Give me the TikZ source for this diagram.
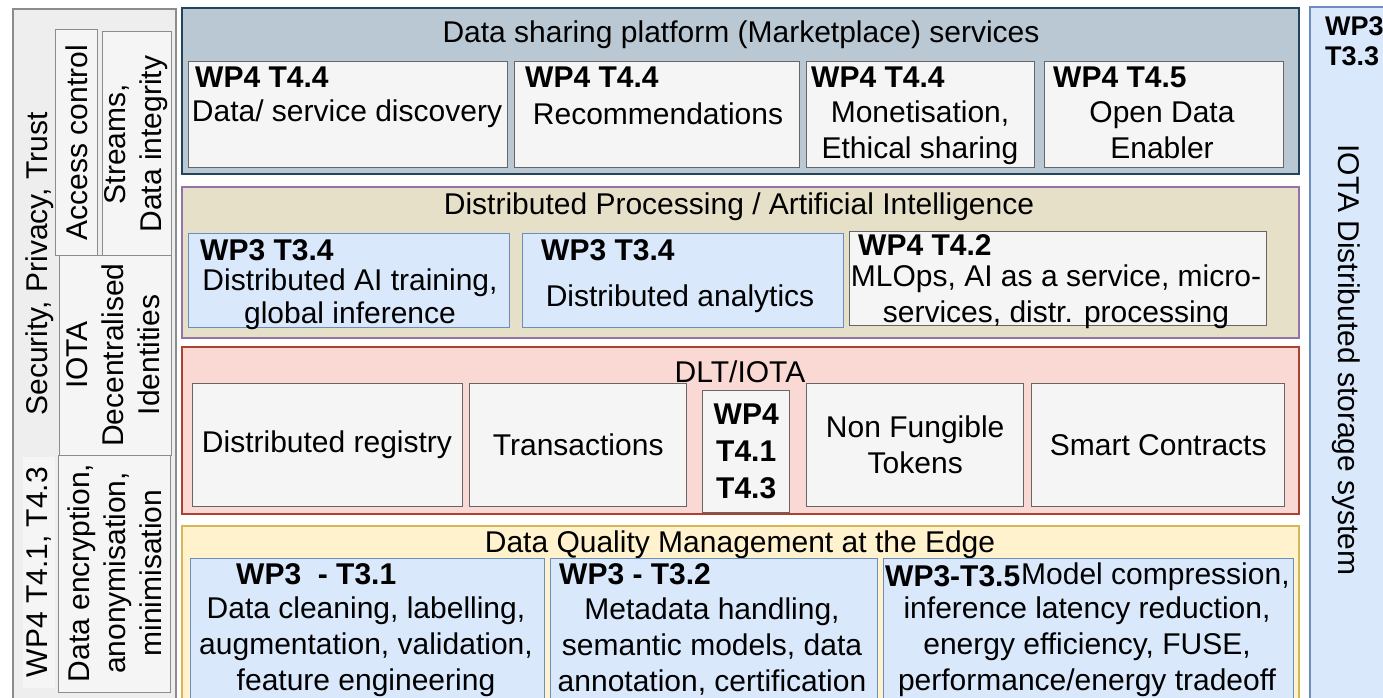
\documentclass[tikz,border=0pt]{standalone}
\usepackage{fontspec}
\setmainfont{Liberation Sans}
\definecolor{topfill}{HTML}{BAC8D3}
\definecolor{topline}{HTML}{23445D}
\definecolor{procfill}{HTML}{E6E0C9}
\definecolor{procline}{HTML}{9673A6}
\definecolor{dltfill}{HTML}{FAD9D5}
\definecolor{dltline}{HTML}{AE4132}
\definecolor{edgefill}{HTML}{FFF2CC}
\definecolor{edgeline}{HTML}{D6B656}
\definecolor{bluefill}{HTML}{DAE8FC}
\definecolor{blueline}{HTML}{6C8EBF}
\definecolor{greyfill}{HTML}{F5F5F5}
\definecolor{greyline}{HTML}{666666}
\definecolor{leftfill}{HTML}{EEEEEE}
\definecolor{leftline}{HTML}{8C8C8C}
\tikzset{
  lbl/.style={font=\fontsize{30}{36}\selectfont, inner sep=0pt, align=center},
  hdr/.style={lbl, font=\fontsize{30}{36}\selectfont\bfseries, anchor=west},
  band/.style={line width=1.6pt, anchor=north west, inner sep=0pt},
  cell/.style={draw=greyline, fill=greyfill, line width=1.4pt, anchor=north west, inner sep=0pt},
  bluecell/.style={cell, draw=blueline, fill=bluefill},
  leftcell/.style={cell, draw=leftline}
}
\begin{document}
\begin{tikzpicture}[x=1pt,y=-1pt]
    \useasboundingbox (0,0) rectangle (1383,697);
    \clip (0,0) rectangle (1383,697);
    %% Security column
    \node[band, draw=leftline, fill=leftfill, minimum width=163, minimum height=720] (sec) at (12,8) {};
    \node[fill=greyfill, anchor=north west, inner sep=0pt, minimum width=32, minimum height=231] (secbg) at (23,457) {};
    \node[lbl, rotate=90] (sectitle) at (40,264) {Security, Privacy, Trust};
    \node[lbl, rotate=90] (secwp) at (39,572) {WP4 T4.1, T4.3};
    \node[leftcell, minimum width=42, minimum height=226] (access) at (55,29) {};
    \node[lbl, rotate=90] at (access.center) {Access control};
    \node[leftcell, minimum width=69, minimum height=224] (streams) at (102,31) {};
    \node[lbl, rotate=90] at (136,144) {Streams,\\Data integrity};
    \node[leftcell, minimum width=112, minimum height=200] (ident) at (59,255) {};
    \node[lbl, rotate=90] at (113,355) {IOTA\\Decentralised\\Identities};
    \node[leftcell, minimum width=112, minimum height=237] (crypt) at (58,455) {};
    \node[lbl, rotate=90] at (115,573) {Data encryption,\\anonymisation,\\minimisation};
    %% Storage column
    \node[band, draw=blueline, fill=bluefill, minimum width=100, minimum height=720] (store) at (1309,6) {};
    \node[font=\fontsize{27}{30}\selectfont\bfseries, inner sep=0pt, align=left, anchor=north west] (storewp) at (1325,16) {WP3\\T3.3};
    \node[lbl, rotate=-90] (storetitle) at (1346,360) {IOTA Distributed storage system};
    %% Marketplace services
    \node[band, draw=topline, fill=topfill, minimum width=1117, minimum height=166] (market) at (181,7) {};
    \node[lbl] (markettitle) at (741,35) {Data sharing platform (Marketplace) services};
    \node[cell, minimum width=319, minimum height=106] (discover) at (188,61) {};
    \node[hdr] at (195,77) {WP4 T4.4};
    \node[lbl] at (347,114) {Data/ service discovery};
    \node[cell, minimum width=285, minimum height=106] (recomm) at (514,61) {};
    \node[hdr] at (525,77) {WP4 T4.4};
    \node[lbl] at (658,114) {Recommendations};
    \node[cell, minimum width=228, minimum height=106] (money) at (806,61) {};
    \node[hdr] at (811,77) {WP4 T4.4};
    \node[lbl] at (920,133) {Monetisation,\\Ethical sharing};
    \node[cell, minimum width=239, minimum height=106] (opendata) at (1044,61) {};
    \node[hdr] at (1053,77) {WP4 T4.5};
    \node[lbl] at (1162,130) {Open Data\\Enabler};
    %% Distributed processing / AI
    \node[band, draw=procline, fill=procfill, minimum width=1117, minimum height=151] (proc) at (181,186) {};
    \node[lbl] (proctitle) at (739,207) {Distributed Processing / Artificial Intelligence};
    \node[bluecell, minimum width=321, minimum height=94] (aitrain) at (188,233) {};
    \node[hdr] at (200,250) {WP3 T3.4};
    \node[lbl, font=\fontsize{30}{33}\selectfont] at (350,299) {Distributed AI training,\\global inference};
    \node[bluecell, minimum width=321, minimum height=94] (analytics) at (522,233) {};
    \node[hdr] at (541,250) {WP3 T3.4};
    \node[lbl] at (680,299) {Distributed analytics};
    \node[cell, minimum width=417, minimum height=94] (mlops) at (849,231) {};
    \node[hdr] at (858,245) {WP4 T4.2};
    \node[lbl] at (1056,297) {MLOps, AI as a service, micro-\\services, distr. processing};
    %% DLT / IOTA
    \node[band, draw=dltline, fill=dltfill, minimum width=1117, minimum height=167] (dlt) at (181,346) {};
    \node[lbl] (dlttitle) at (740,372) {DLT/IOTA};
    \node[cell, minimum width=270, minimum height=123] (registry) at (192,383) {};
    \node[lbl] at (327,445) {Distributed registry};
    \node[cell, minimum width=217, minimum height=123] (trans) at (469,383) {};
    \node[lbl] at (trans.center) {Transactions};
    \node[cell, minimum width=87, minimum height=122] (dltwp) at (702,390) {};
    \node[lbl, font=\fontsize{30}{37}\selectfont\bfseries] at (dltwp.center) {WP4\\T4.1\\T4.3};
    \node[cell, minimum width=217, minimum height=123] (nft) at (806,383) {};
    \node[lbl] at (nft.center) {Non Fungible\\Tokens};
    \node[cell, minimum width=253, minimum height=123] (smart) at (1031,383) {};
    \node[lbl] at (smart.center) {Smart Contracts};
    %% Data quality at the edge
    \node[band, draw=edgeline, fill=edgefill, minimum width=1117, minimum height=200] (edge) at (181,525) {};
    \node[lbl] (edgetitle) at (740,545) {Data Quality Management at the Edge};
    \node[bluecell, minimum width=354, minimum height=160] (clean) at (190,558) {};
    \node[hdr] at (236,574) {WP3~~- T3.1};
    \node[lbl] at (366,647) {Data cleaning, labelling,\\augmentation, validation,\\feature engineering};
    \node[bluecell, minimum width=327, minimum height=160] (meta) at (550,558) {};
    \node[hdr] at (559,574) {WP3 - T3.2};
    \node[lbl] at (712,647) {Metadata handling,\\semantic models, data\\annotation, certification};
    \node[bluecell, minimum width=410, minimum height=160] (compress) at (883,558) {};
    \node[hdr] (compresswp) at (885,576) {WP3-T3.5};
    \node[lbl, anchor=west] at (1021,577) {Model compression,};
    \node[lbl] at (1087,647) {inference latency reduction,\\energy efficiency, FUSE,\\performance/energy tradeoff};
\end{tikzpicture}
\end{document}
